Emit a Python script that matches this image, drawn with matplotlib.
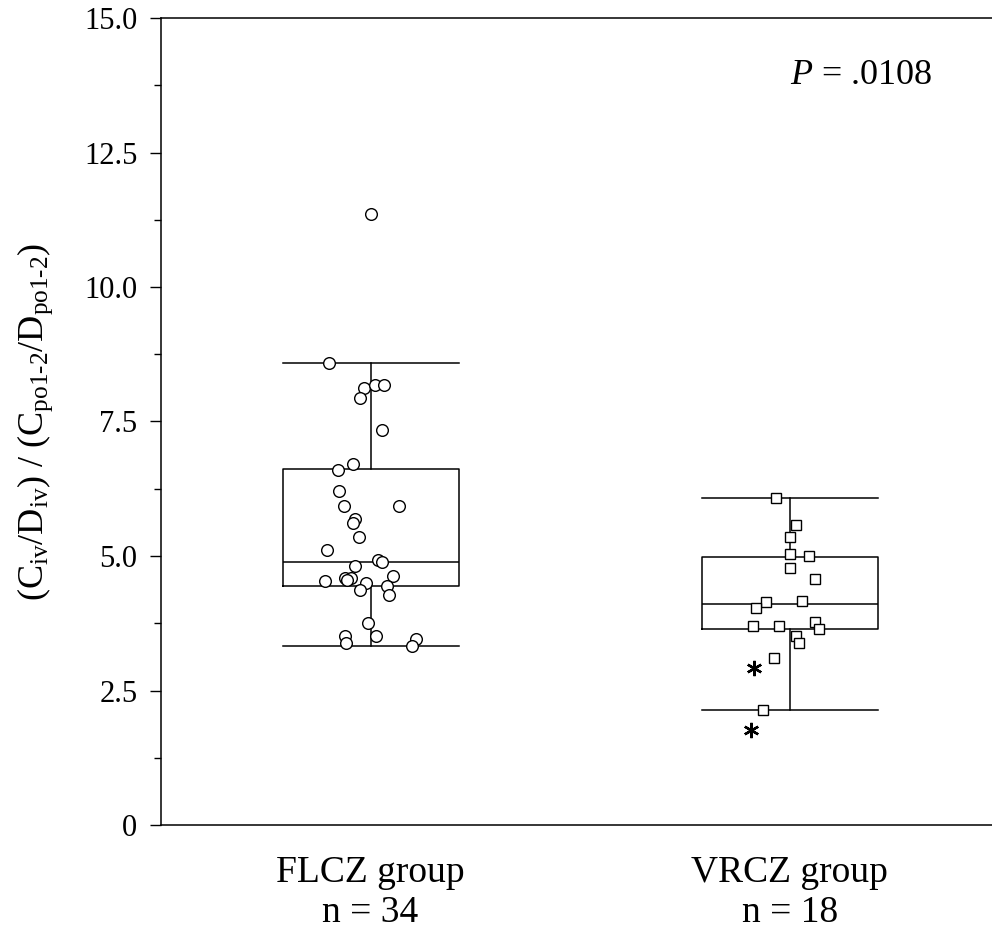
import numpy as np
import matplotlib
matplotlib.use("Agg")
import matplotlib.pyplot as plt

plt.rcParams['font.family'] = ['Liberation Serif', 'DejaVu Serif']
plt.rcParams['mathtext.fontset'] = 'custom'
plt.rcParams['mathtext.rm'] = 'Liberation Serif'
plt.rcParams['mathtext.it'] = 'Liberation Serif:italic'

grupos = ["FLCZ group\nn = 34", "VRCZ group\nn = 18"]
posicoes = [1, 2]

# valores individuais e deslocamento horizontal de cada ponto
flcz_valores = [11.36, 8.58, 8.12, 8.18, 8.18, 7.94, 7.35, 6.71, 6.60, 6.21,
                5.93, 5.93, 5.68, 5.62, 5.35, 5.11, 4.93, 4.89, 4.82, 4.53,
                4.59, 4.59, 4.55, 4.49, 4.63, 4.45, 4.37, 4.28, 3.75, 3.52,
                3.52, 3.39, 3.46, 3.33]
flcz_jitter = [0.0, -0.098, -0.015, 0.011, 0.032, -0.024, 0.027, -0.043, -0.078, -0.076,
               -0.064, 0.068, -0.036, -0.042, -0.028, -0.103, 0.019, 0.028, -0.036, -0.109,
               -0.061, -0.046, -0.057, -0.012, 0.054, 0.039, -0.025, 0.043, -0.005, -0.062,
               0.014, -0.059, 0.109, 0.099]

vrcz_valores = [6.07, 5.58, 5.36, 5.03, 5.00, 4.78, 4.57, 4.14, 4.04, 4.17,
                3.69, 3.69, 3.78, 3.65, 3.51, 3.38, 3.10, 2.14]
vrcz_jitter = [-0.033, 0.015, 0.002, 0.002, 0.046, 0.002, 0.060, -0.057, -0.079, 0.029,
               -0.088, -0.026, 0.060, 0.069, 0.015, 0.022, -0.037, -0.064]

# estatisticas das caixas
medianas = [4.89, 4.11]
q1 = [4.44, 3.64]
q3 = [6.62, 4.98]
whisker_baixo = [3.33, 2.14]
whisker_alto = [8.58, 6.08]

# asteriscos (grupo VRCZ)
asteriscos_valores = [2.91, 1.77]
asteriscos_jitter = [-0.084, -0.093]

fig = plt.figure(figsize=(9.92, 9.36), dpi=100)
ax = fig.add_axes([161 / 992, 111 / 936, 1 - 161 / 992, 807 / 936])

stats = []
for i in range(2):
    stats.append({'med': medianas[i], 'q1': q1[i], 'q3': q3[i],
                  'whislo': whisker_baixo[i], 'whishi': whisker_alto[i], 'fliers': []})

lw = 1.1
ax.bxp(stats, positions=posicoes, widths=0.42, capwidths=0.42, showfliers=False,
       boxprops=dict(color='black', linewidth=lw),
       medianprops=dict(color='black', linewidth=lw),
       whiskerprops=dict(color='black', linewidth=lw),
       capprops=dict(color='black', linewidth=lw))

ax.plot(posicoes[0] + np.array(flcz_jitter), flcz_valores, 'o', ms=8.4,
        mfc='white', mec='black', mew=1.0, linestyle='none', zorder=3)
ax.plot(posicoes[1] + np.array(vrcz_jitter), vrcz_valores, 's', ms=6.8,
        mfc='white', mec='black', mew=1.0, linestyle='none', zorder=3)
ax.plot(posicoes[1] + np.array(asteriscos_jitter), asteriscos_valores,
        marker=(6, 2, 0), ms=11, mec='black', mew=1.7, linestyle='none', zorder=3)

ax.set_xlim(0.5, 2.483)
ax.set_ylim(0, 15)
ax.set_yticks(np.arange(0, 15.1, 2.5))
ax.set_yticklabels(["0", "2.5", "5.0", "7.5", "10.0", "12.5", "15.0"])
ax.set_yticks(np.arange(1.25, 15, 2.5), minor=True)
ax.tick_params(axis='y', which='major', length=8, width=1, labelsize=22, pad=9)
ax.tick_params(axis='y', which='minor', length=5, width=1)

ax.set_xticks(posicoes)
ax.set_xticklabels(grupos, fontsize=27, linespacing=1.22)
ax.tick_params(axis='x', length=0, pad=22)

for lado in ['left', 'top', 'bottom']:
    ax.spines[lado].set_linewidth(1.1)
ax.spines['right'].set_visible(False)

ax.set_ylabel(r'$\mathrm{(C_{iv}/D_{iv})\ /\ (C_{po1‐2}/D_{po1‐2})}$', fontsize=26)
ax.yaxis.set_label_coords(-0.128, 0.5)

ax.text(2.341, 13.94, r'$\mathit{P}$ = .0108', fontsize=26, ha='right', va='center')

fig.savefig("out.png", dpi=100)
